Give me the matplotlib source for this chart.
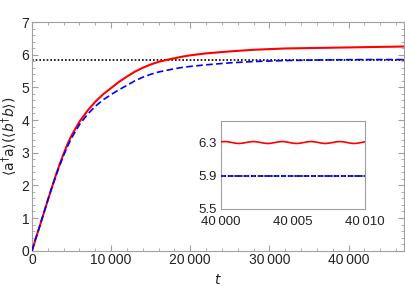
import matplotlib
matplotlib.use("Agg")
import matplotlib.pyplot as plt
from matplotlib.ticker import MultipleLocator

plt.rcParams['font.family'] = ['Liberation Sans', 'DejaVu Sans']
plt.rcParams['mathtext.fontset'] = 'dejavusans'

# Main curves
t_main = [0, 500, 1000, 1500, 2000, 2500, 3000, 3500, 4000, 4500, 5000, 6000, 7000, 8000,
          9000, 10000, 11000, 12000, 13000, 14000, 15000, 16000, 17000, 18000, 19000,
          20000, 22000, 25000, 28000, 32000, 37000, 42000, 47000]
red_main = [0, 0.39, 0.77, 1.16, 1.55, 1.93, 2.30, 2.65, 2.97, 3.27, 3.53, 3.95, 4.28, 4.56,
            4.79, 4.98, 5.17, 5.33, 5.48, 5.60, 5.70, 5.78, 5.84, 5.89, 5.94,
            5.98, 6.04, 6.10, 6.15, 6.19, 6.21, 6.23, 6.25]
blue_main = [0, 0.39, 0.77, 1.16, 1.55, 1.92, 2.28, 2.61, 2.92, 3.20, 3.45, 3.86, 4.17, 4.42,
             4.62, 4.78, 4.93, 5.06, 5.20, 5.31, 5.40, 5.47, 5.52, 5.57, 5.61,
             5.64, 5.69, 5.75, 5.79, 5.82, 5.84, 5.85, 5.85]
steady_main = 5.85

# Inset curves
t_inset = [40000 + 0.25 * i for i in range(41)]
red_inset = [6.308, 6.312, 6.308, 6.300, 6.292, 6.288, 6.292, 6.300] * 5 + [6.308]
blue_inset = [5.90] * 41
steady_inset = 5.90

xticks_main = [0, 10000, 20000, 30000, 40000]
xticklabels_main = ["0", "10\u2009000", "20\u2009000", "30\u2009000", "40\u2009000"]
yticks_main = [0, 1, 2, 3, 4, 5, 6, 7]
xticks_inset = [40000, 40005, 40010]
xticklabels_inset = ["40\u2009000", "40\u2009005", "40\u2009010"]
yticks_inset = [5.5, 5.9, 6.3]

frame_col = '#a0a0a0'
txt_col = '#222222'

fig = plt.figure(figsize=(4.05, 3.08), dpi=100)
ax = fig.add_axes([32/405, 1 - 250.7/308, (404 - 32)/405, (250.7 - 22)/308])

ax.axhline(steady_main, color='black', lw=1.2, ls=(0, (1, 1.2)), zorder=2)
ax.plot(t_main, red_main, color='#ff0000', lw=1.5, zorder=3)
ax.plot(t_main, blue_main, color='#0000ff', lw=1.2, ls=(0, (4, 2)), zorder=4)

ax.set_xlim(0, 47000)
ax.set_ylim(0, 7)
ax.set_xticks(xticks_main)
ax.set_xticklabels(xticklabels_main)
ax.set_yticks(yticks_main)
ax.xaxis.set_minor_locator(MultipleLocator(2000))
ax.yaxis.set_minor_locator(MultipleLocator(0.2))
ax.tick_params(which='both', direction='in', top=True, right=True, color=frame_col,
               labelcolor=txt_col, labelsize=10, pad=2)
ax.tick_params(which='major', length=4)
ax.tick_params(which='minor', length=2)
for s in ax.spines.values():
    s.set_color(frame_col)
    s.set_linewidth(0.8)

ax.set_xlabel('$t$', fontsize=10, color=txt_col, labelpad=4)
ax.set_ylabel(r'$\langle \mathrm{a}^{\dagger}\mathrm{a}\rangle(\langle b^{\dagger}b\rangle)$',
              fontsize=10, color=txt_col, labelpad=1)

ins = fig.add_axes([221/405, 1 - 208.7/308, (365 - 221)/405, (208.7 - 121)/308])
ins.axhline(steady_inset, color='black', lw=1.2, ls=(0, (1, 1)), zorder=2)
ins.plot(t_inset, red_inset, color='#ff0000', lw=1.2, zorder=3)
ins.plot(t_inset, blue_inset, color='#0000ff', lw=1.2, ls=(0, (3, 1.5)), zorder=4)
ins.set_xlim(40000, 40010)
ins.set_ylim(5.5, 6.56)
ins.set_xticks(xticks_inset)
ins.set_xticklabels(xticklabels_inset)
ins.set_yticks(yticks_inset)
ins.set_yticklabels([f"{v:.1f}" for v in yticks_inset])
ins.tick_params(which='both', direction='in', length=0, labelcolor=txt_col,
                labelsize=9.5, pad=2)
ins.tick_params(axis='x', pad=5)
ins.tick_params(axis='y', pad=3)
for s in ins.spines.values():
    s.set_color(frame_col)
    s.set_linewidth(0.8)
ins.set_facecolor('white')

fig.savefig('out.png', dpi=100)
